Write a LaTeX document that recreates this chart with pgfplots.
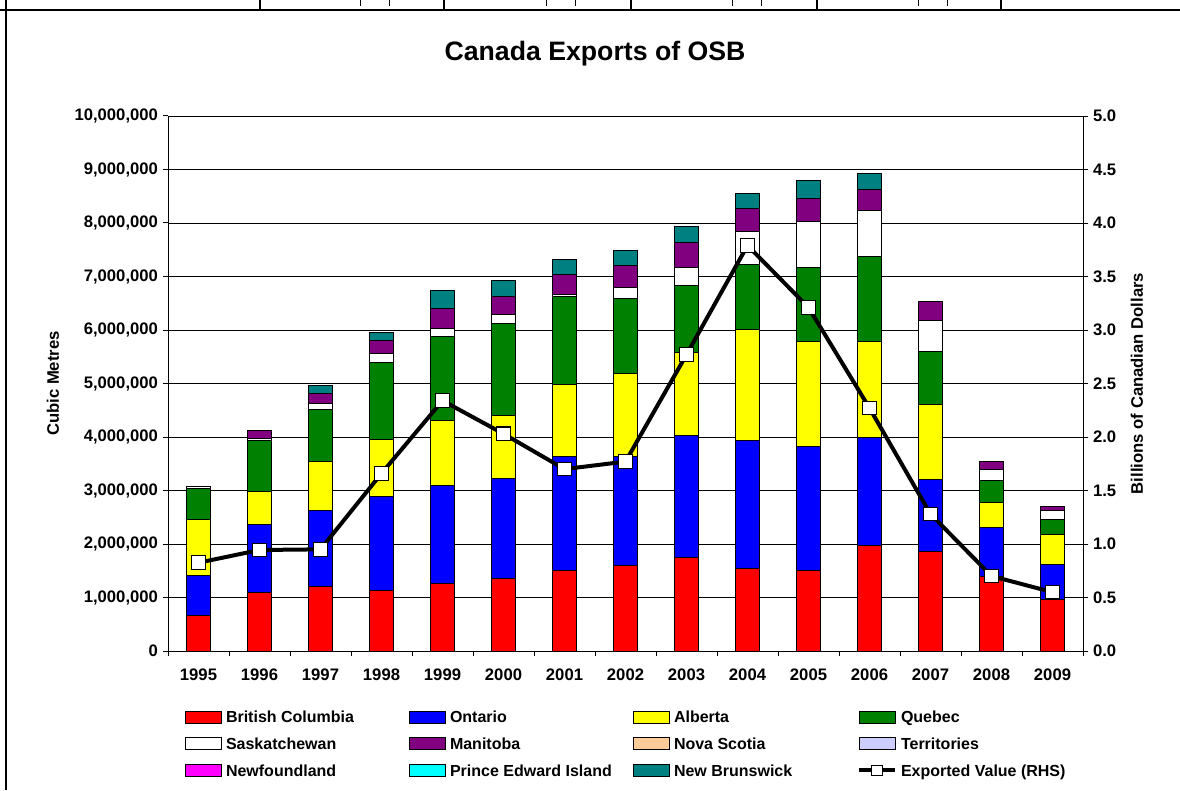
\documentclass[border=0pt]{standalone}
\usepackage{fontspec}
\setmainfont{Liberation Sans}
\usepackage{pgfplots}
\usepackage{pgfplotstable}
\pgfplotsset{compat=1.18}

\definecolor{cBC}{RGB}{255,0,0}
\definecolor{cON}{RGB}{0,0,255}
\definecolor{cAB}{RGB}{255,255,0}
\definecolor{cQC}{RGB}{0,128,0}
\definecolor{cSK}{RGB}{255,255,255}
\definecolor{cMB}{RGB}{128,0,128}
\definecolor{cNS}{RGB}{255,204,153}
\definecolor{cYT}{RGB}{204,204,255}
\definecolor{cNL}{RGB}{255,0,255}
\definecolor{cPE}{RGB}{0,255,255}
\definecolor{cNB}{RGB}{0,128,128}

\newcommand\tf{\fontsize{12.5}{15}\selectfont\bfseries}
\newcommand\lf{\fontsize{12}{14}\selectfont\bfseries}
\newcommand\lent[1]{\makebox[130pt][l]{\rule[-1.7pt]{0pt}{12pt}#1}}

% cubic metres by province (NS, territories, NL, PEI are nil)
\pgfplotstableread{
yr bc      on      ab      qc      sk     mb     nb
0  670000  750000  1030000 580000  40000  0      0
1  1100000 1260000 630000  940000  40000  160000 0
2  1200000 1420000 930000  970000  110000 190000 140000
3  1140000 1740000 1080000 1440000 160000 250000 150000
4  1270000 1830000 1200000 1580000 140000 380000 330000
5  1350000 1880000 1180000 1720000 160000 330000 310000
6  1510000 2120000 1360000 1630000 40000  370000 280000
7  1590000 2050000 1540000 1400000 220000 400000 290000
8  1740000 2280000 1560000 1250000 340000 460000 300000
9  1550000 2380000 2080000 1220000 610000 430000 280000
10 1510000 2310000 1970000 1380000 860000 420000 340000
11 1970000 2020000 1800000 1590000 860000 380000 310000
12 1860000 1350000 1390000 1000000 580000 350000 0
13 1400000 900000  470000  410000  220000 150000 0
14 970000  650000  560000  270000  170000 80000  0
}\prov

% exported value, billions CAD
\pgfplotstableread{
yr v
0  0.825
1  0.944
2  0.950
3  1.66
4  2.34
5  2.03
6  1.70
7  1.77
8  2.77
9  3.79
10 3.21
11 2.27
12 1.28
13 0.70
14 0.55
}\val

\pgfplotsset{
  sw/.style={fill=#1, draw=black, line width=0.75pt,
    legend image code/.code={\draw[fill=#1,draw=black,line width=0.75pt] (0pt,-4.5pt) rectangle (27pt,4.5pt);}},
  valleg/.style={legend image code/.code={%
    \draw[black,line width=3pt] (0pt,0pt) -- (27pt,0pt);
    \draw[fill=white,draw=black,line width=0.75pt] (9.5pt,-4pt) rectangle (17.5pt,4pt);}},
  base/.style={
    at={(126pt,104.25pt)}, anchor=south west,
    width=686.25pt, height=401.25pt, scale only axis,
    xmin=-0.5, xmax=14.5,
    tick align=outside, major tick length=4pt, minor tick length=4pt,
    tick style={black, line width=0.75pt},
    axis line style={black, line width=0.75pt},
    tick label style={font=\tf},
    /pgf/number format/assume math mode=true,
  },
}

\begin{document}
\begin{tikzpicture}
\path[use as bounding box] (0pt,0pt) rectangle (885pt,592.5pt);
% clipped table border above the chart
\draw[line width=1.5pt] (0pt,585pt) -- (885pt,585pt);
\draw[line width=1.5pt] (4.5pt,0pt) -- (4.5pt,592.5pt);
\foreach \x in {195,333,473.25,612.75,750.75}
  \draw[line width=0.9pt] (\x pt,585pt) -- (\x pt,592.5pt);
\foreach \x in {270,291.75,409.5,431.25,549,570.75,688.5,710.25}
  \draw[line width=0.6pt] (\x pt,588pt) -- (\x pt,592.5pt);

\node[anchor=base, font=\fontsize{20}{24}\selectfont\bfseries] at (446.25pt,546.75pt) {Canada Exports of OSB};

\begin{axis}[
  base,
  ymin=0, ymax=10000000,
  ybar stacked, bar width=0.4,
  axis x line*=bottom, axis y line*=left,
  xtick={0,...,14},
  xticklabels={1995,1996,1997,1998,1999,2000,2001,2002,2003,2004,2005,2006,2007,2008,2009},
  major x tick style={draw=none},
  minor xtick={-0.5,0.5,...,14.5},
  xticklabel style={yshift=-6pt},
  ytick={0,1000000,...,10000000},
  scaled y ticks=false,
  yticklabel style={/pgf/number format/.cd, fixed, precision=0, 1000 sep={,}},
  ymajorgrids, major grid style={black, line width=0.6pt},
  every axis y label/.style={at={(axis description cs:-0.1257,0.5)}, rotate=90, anchor=center, font=\tf},
  ylabel={Cubic Metres},
  legend columns=4, legend cell align=left,
  legend style={at={(0.0186,-0.1084)}, anchor=north west, draw=none, fill=none,
    inner sep=0pt, outer sep=0pt, row sep=8pt, font=\lf,
    nodes={inner sep=0pt, text depth=1.7pt},
    /tikz/every odd column/.append style={column sep=3pt},
    /tikz/every even column/.append style={column sep=7.25pt}},
]
\addplot[sw=cBC] table[x=yr,y=bc]{\prov};
\addlegendentry{\lent{British Columbia}}
\addplot[sw=cON] table[x=yr,y=on]{\prov};
\addlegendentry{\lent{Ontario}}
\addplot[sw=cAB] table[x=yr,y=ab]{\prov};
\addlegendentry{\lent{Alberta}}
\addplot[sw=cQC] table[x=yr,y=qc]{\prov};
\addlegendentry{\lent{Quebec}}
\addplot[sw=cSK] table[x=yr,y=sk]{\prov};
\addlegendentry{\lent{Saskatchewan}}
\addplot[sw=cMB] table[x=yr,y=mb]{\prov};
\addlegendentry{\lent{Manitoba}}
\addlegendimage{sw=cNS}
\addlegendentry{\lent{Nova Scotia}}
\addlegendimage{sw=cYT}
\addlegendentry{\lent{Territories}}
\addlegendimage{sw=cNL}
\addlegendentry{\lent{Newfoundland}}
\addlegendimage{sw=cPE}
\addlegendentry{\lent{Prince Edward Island}}
\addplot[sw=cNB] table[x=yr,y=nb]{\prov};
\addlegendentry{\lent{New Brunswick}}
\addlegendimage{valleg}
\addlegendentry{\lent{Exported Value (RHS)}}
\end{axis}

\begin{axis}[
  base,
  ymin=0, ymax=5,
  axis x line=none, axis y line*=right,
  ytick={0,0.5,...,5},
  yticklabel style={/pgf/number format/.cd, fixed, fixed zerofill, precision=1},
  every axis y label/.style={at={(axis description cs:1.059,0.5)}, rotate=90, anchor=center, font=\tf},
  ylabel={Billions of Canadian Dollars},
]
\addplot[black, line width=3pt, mark=square*, mark size=5.1pt,
  mark options={fill=white, draw=black, line width=0.8pt}] table[x=yr,y=v]{\val};
\end{axis}
\end{tikzpicture}
\end{document}
